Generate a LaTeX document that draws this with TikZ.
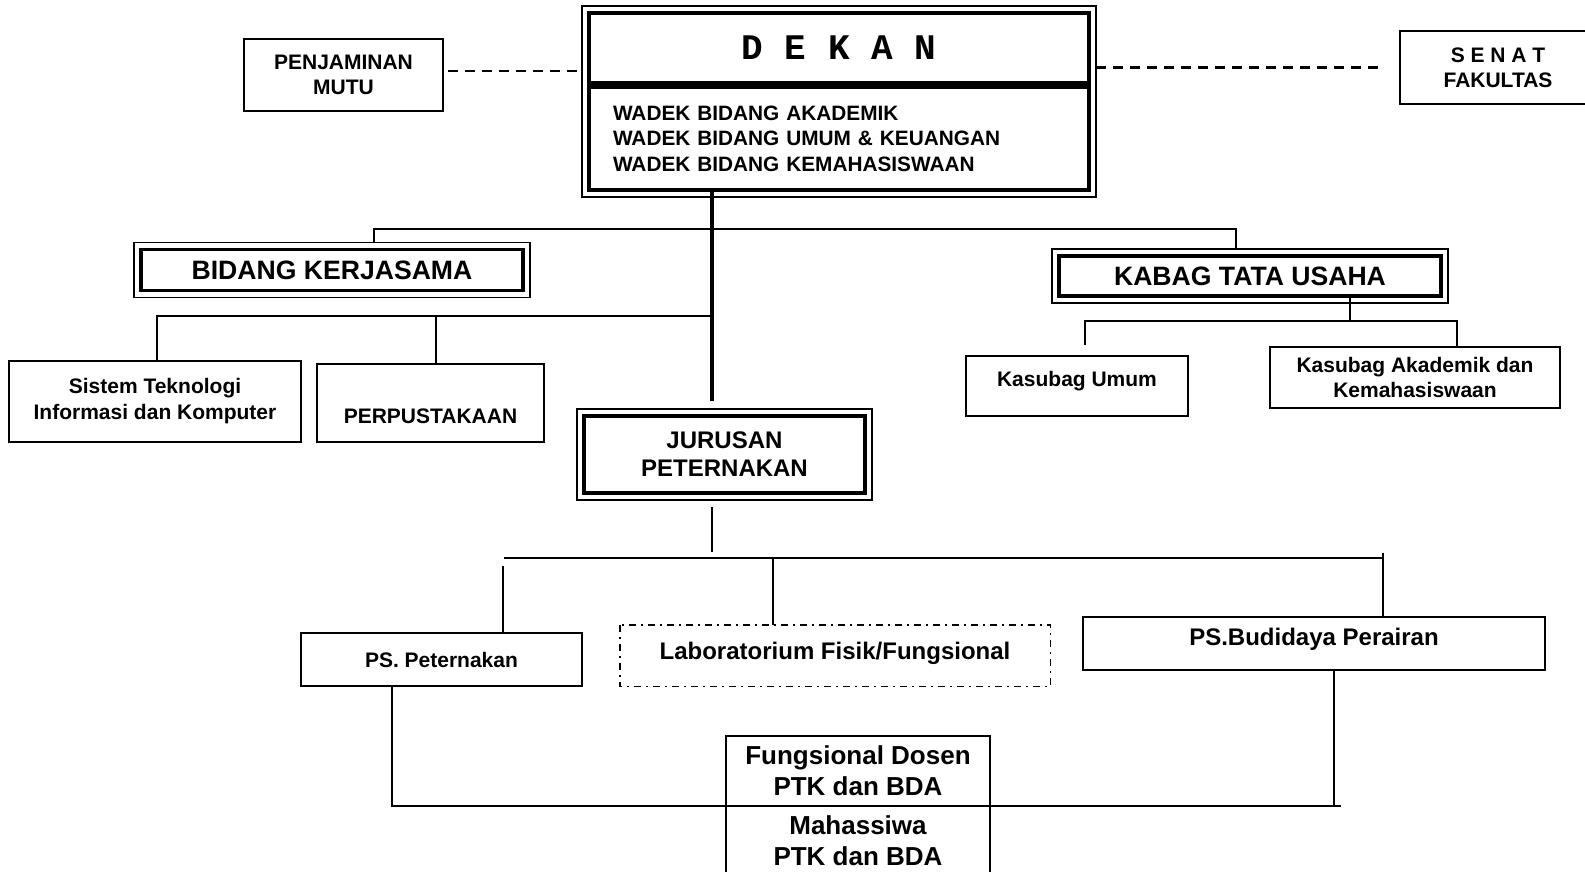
\documentclass[tikz,border=0pt]{standalone}
\usepackage{fontspec}
\setmainfont{Liberation Sans}
\newfontfamily\monofont{Liberation Mono}

\begin{document}
\begin{tikzpicture}[
	x=0.5pt, y=-0.5pt,
	box/.style={draw, line width=1.4pt, fill=white, align=center, inner sep=0pt,
		font=\bfseries\fontsize{10.5}{12.5}\selectfont},
	thickbox/.style={box, line width=1.9pt},
	frame/.style={line width=0.7pt},
	link/.style={line width=1.2pt},
	trunk/.style={line width=2.2pt},
	dashline/.style={line width=1.4pt, dash pattern=on 5pt off 3.5pt},
	dashdot/.style={line width=0.9pt, dash pattern=on 3.5pt off 2.5pt on 1pt off 2.5pt}
	]
	\useasboundingbox (0,0) rectangle (1585,872);
	
	% top row
	\node[box, minimum width=99.5pt, minimum height=36pt] (mutu) at (343.5,75) {PENJAMINAN\\MUTU};
	\node[thickbox, minimum width=250pt, minimum height=35pt,
		font=\monofont\bfseries\fontsize{18}{20}\selectfont] (dekan) at (839,48) {D E K A N};
	\node[thickbox, minimum width=250pt, minimum height=51.5pt, text width=226pt, align=left,
		font=\bfseries\fontsize{10.4}{12.75}\selectfont] (wadek) at (839,138.5)
		{WADEK BIDANG AKADEMIK\\WADEK BIDANG UMUM \& KEUANGAN\\WADEK BIDANG KEMAHASISWAAN};
	\node[box, minimum width=98pt, minimum height=36.5pt] (senat) at (1498,67.5) {S E N A T\\FAKULTAS};
	
	% second level
	\node[thickbox, minimum width=191pt, minimum height=20.5pt,
		font=\bfseries\fontsize{13.3}{16}\selectfont] (kerja) at (332,270) {BIDANG KERJASAMA};
	\node[thickbox, minimum width=191pt, minimum height=20pt,
		font=\bfseries\fontsize{13.3}{16}\selectfont] (kabag) at (1250,276) {KABAG TATA USAHA};
	
	\node[box, minimum width=146pt, minimum height=40.5pt, font=\bfseries\fontsize{10.5}{13}\selectfont]
		(sistem) at (155,401.5) {Sistem Teknologi\\Informasi dan Komputer};
	\node[box, minimum width=113.5pt, minimum height=39pt, text height=20.5pt, text depth=0pt]
		(pustaka) at (430.5,403) {PERPUSTAKAAN};
	\node[box, minimum width=111pt, minimum height=30pt, text height=7.6pt, text depth=7pt]
		(kasumum) at (1077,386) {Kasubag Umum};
	\node[box, minimum width=145pt, minimum height=30.5pt]
		(kasakad) at (1415,377.5) {Kasubag Akademik dan\\Kemahasiswaan};
	
	\node[thickbox, minimum width=140.5pt, minimum height=38.5pt,
		font=\bfseries\fontsize{12}{14}\selectfont] (jurusan) at (724.5,454.5) {JURUSAN\\PETERNAKAN};
	
	% program studi
	\node[box, minimum width=140.5pt, minimum height=26.5pt] (psptk) at (441.5,659.5) {PS. Peternakan};
	\node[box, draw=none, minimum width=214pt, minimum height=29.5pt, text height=8.6pt, text depth=4.5pt,
		font=\bfseries\fontsize{12}{14}\selectfont] (lab) at (835,655.5) {Laboratorium Fisik/Fungsional};
	\draw[dashdot] (lab.north west) rectangle (lab.south east);
	\node[box, minimum width=231pt, minimum height=26.5pt, text height=8.6pt, text depth=6.5pt,
		font=\bfseries\fontsize{12}{14}\selectfont] (psbda) at (1314,643.5) {PS.Budidaya Perairan};
	
	% connectors
	\coordinate (busTop) at (712,229);
	\coordinate (kjTurn) at (374,229);
	\coordinate (kbTurn) at (1236,229);
	\coordinate (busLeft) at (712,316);
	\coordinate (sisTurn) at (157,316);
	\coordinate (pusTurn) at (436,316);
	\coordinate (tuBus) at (1350,321);
	\coordinate (kuTurn) at (1085,321);
	\coordinate (kuEnd) at (1085,345);
	\coordinate (kaTurn) at (1457,321);
	\coordinate (jrTop) at (712,507);
	\coordinate (jrEnd) at (712,552);
	\coordinate (psL) at (504,558);
	\coordinate (psR) at (1383,558);
	\coordinate (ptkTop) at (503,566);
	\coordinate (labTurn) at (773,558);
	\coordinate (bdaTop) at (1383,553);
	\coordinate (loopL) at (392,806);
	\coordinate (loopR) at (1341,806);
	\coordinate (bdaFoot) at (1334,806);
	
	\draw[trunk, shorten >=6.5pt] (wadek.south -| busTop) -- (jurusan.north -| busTop);
	\draw[link, shorten <=2.6pt, shorten >=2.6pt] (kerja.north -| kjTurn) -- (kjTurn) -- (kbTurn) -- (kabag.north -| kbTurn);
	\draw[link] (sistem.north -| sisTurn) -- (sisTurn) -- (busLeft);
	\draw[link] (pustaka.north -| pusTurn) -- (pusTurn);
	\draw[link] (kabag.south -| tuBus) -- (tuBus);
	\draw[link] (kuEnd) -- (kuTurn) -- (kaTurn) -- (kasakad.north -| kaTurn);
	\draw[link] (jrTop) -- (jrEnd);
	\draw[link] (psL) -- (psR);
	\draw[link] (ptkTop) -- (psptk.north -| ptkTop);
	\draw[link] (labTurn) -- (lab.north -| labTurn);
	\draw[link] (bdaTop) -- (psbda.north -| bdaTop);
	\draw[link] (psptk.south -| loopL) -- (loopL) -- (loopR);
	\draw[link] (psbda.south -| bdaFoot) -- (bdaFoot);
	
	\draw[dashline, shorten <=2pt, shorten >=3pt] ([yshift=2pt]mutu.east) -- ([yshift=2pt]mutu.east -| dekan.west);
	\draw[dashline, shorten <=2.5pt, shorten >=9pt] (dekan.east |- senat.west) -- (senat.west);
	
	% bottom stack
	\node[box, line width=1.2pt, minimum width=132pt, minimum height=35pt,
		font=\bfseries\fontsize{13}{15.5}\selectfont] (dosen) at (858,771) {Fungsional Dosen\\PTK dan BDA};
	\node[box, line width=1.2pt, minimum width=132pt, minimum height=35pt,
		font=\bfseries\fontsize{13}{15.5}\selectfont] (mhs) at (858,841) {Mahassiwa\\PTK dan BDA};
	
	% outer frames of the double boxes
	\foreach \n in {kerja,kabag,jurusan}
	\draw[frame] ([shift={(-2.6pt,2.6pt)}]\n.north west) rectangle ([shift={(2.6pt,-2.6pt)}]\n.south east);
	\draw[frame] ([shift={(-2.6pt,2.6pt)}]dekan.north west) rectangle ([shift={(2.6pt,-2.6pt)}]wadek.south east);
	
\end{tikzpicture}
\end{document}
